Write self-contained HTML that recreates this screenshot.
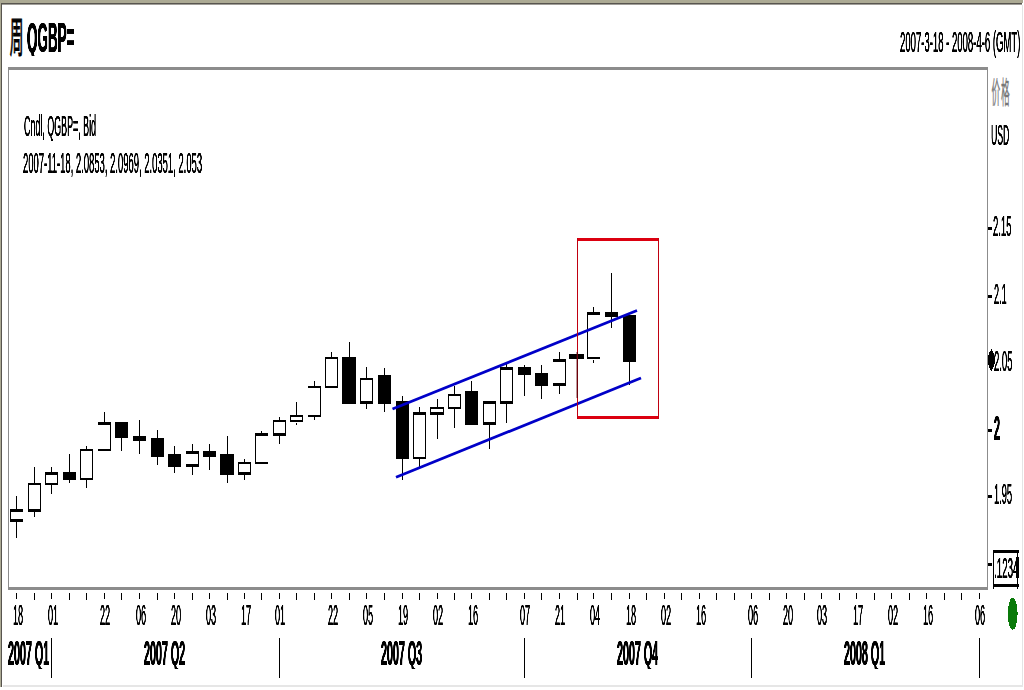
<!DOCTYPE html>
<html><head><meta charset="utf-8"><title>chart</title>
<style>
html,body{margin:0;padding:0;background:#fff;}
body{width:1024px;height:690px;position:relative;overflow:hidden;font-family:"Liberation Sans",sans-serif;color:#000;}
svg{position:absolute;left:0;top:0;}
.b{text-shadow:0.9px 0 0 #000,-0.9px 0 0 #000 !important;}
.t{position:absolute;white-space:nowrap;line-height:1;display:block;transform-origin:0 0;will-change:transform;text-shadow:0.5px 0 0 #000,-0.5px 0 0 #000;}
</style></head><body>
<svg width="1024" height="690" viewBox="0 0 1024 690" shape-rendering="crispEdges">
<rect x="0" y="0" width="1023" height="3" fill="#acaa94"/>
<rect x="1" y="3" width="1021" height="1" fill="#58554f"/>
<rect x="2" y="4" width="1020" height="1" fill="#a09e98"/>
<rect x="0" y="0" width="1" height="687" fill="#acaa94"/>
<rect x="1" y="3" width="1" height="684" fill="#58554f"/>
<rect x="1022" y="5" width="1" height="682" fill="#e4e4e4"/>
<rect x="3" y="685" width="1020" height="2" fill="#e6e6e6"/>
<rect x="8" y="67" width="980" height="3" fill="#8c8c8c"/>
<rect x="8" y="587" width="980" height="3" fill="#8c8c8c"/>
<rect x="8" y="67" width="1" height="523" fill="#8c8c8c"/>
<rect x="987" y="67" width="1" height="523" fill="#8c8c8c"/>
<rect x="988" y="227" width="4" height="3" fill="#000"/>
<rect x="988" y="295" width="4" height="3" fill="#000"/>
<rect x="988" y="429" width="4" height="3" fill="#000"/>
<rect x="988" y="495" width="4" height="3" fill="#000"/>
<rect x="988" y="563" width="4" height="3" fill="#000"/>
<polygon points="991.3,349 993.4,353 994.9,357.5 994.9,362.5 993.4,367 991.3,371 989.2,367 987.7,362.5 987.7,357.5 989.2,353" fill="#000"/>
<rect x="993" y="550" width="26" height="3" fill="#000"/>
<rect x="993" y="584" width="26" height="3" fill="#000"/>
<rect x="993" y="550" width="1" height="39" fill="#000"/>
<rect x="1017" y="550" width="1" height="39" fill="#000"/>
<rect x="1016" y="557" width="3" height="21" fill="#000"/>
<ellipse cx="1012.7" cy="613.7" rx="4.9" ry="16" fill="#0a7a0a"/>
<rect x="16" y="593" width="1" height="6" fill="#000"/>
<rect x="34" y="593" width="1" height="7" fill="#000"/>
<rect x="51" y="593" width="1" height="6" fill="#000"/>
<rect x="69" y="593" width="1" height="7" fill="#000"/>
<rect x="86" y="593" width="1" height="7" fill="#000"/>
<rect x="104" y="593" width="1" height="6" fill="#000"/>
<rect x="121" y="593" width="1" height="7" fill="#000"/>
<rect x="139" y="593" width="1" height="6" fill="#000"/>
<rect x="157" y="593" width="1" height="7" fill="#000"/>
<rect x="174" y="593" width="1" height="6" fill="#000"/>
<rect x="192" y="593" width="1" height="7" fill="#000"/>
<rect x="209" y="593" width="1" height="6" fill="#000"/>
<rect x="227" y="593" width="1" height="7" fill="#000"/>
<rect x="244" y="593" width="1" height="6" fill="#000"/>
<rect x="261" y="593" width="1" height="7" fill="#000"/>
<rect x="279" y="593" width="1" height="6" fill="#000"/>
<rect x="296" y="593" width="1" height="7" fill="#000"/>
<rect x="314" y="593" width="1" height="7" fill="#000"/>
<rect x="331" y="593" width="1" height="6" fill="#000"/>
<rect x="349" y="593" width="1" height="7" fill="#000"/>
<rect x="366" y="593" width="1" height="6" fill="#000"/>
<rect x="384" y="593" width="1" height="7" fill="#000"/>
<rect x="402" y="593" width="1" height="6" fill="#000"/>
<rect x="419" y="593" width="1" height="7" fill="#000"/>
<rect x="437" y="593" width="1" height="6" fill="#000"/>
<rect x="454" y="593" width="1" height="7" fill="#000"/>
<rect x="471" y="593" width="1" height="6" fill="#000"/>
<rect x="489" y="593" width="1" height="7" fill="#000"/>
<rect x="506" y="593" width="1" height="7" fill="#000"/>
<rect x="524" y="593" width="1" height="6" fill="#000"/>
<rect x="541" y="593" width="1" height="7" fill="#000"/>
<rect x="559" y="593" width="1" height="6" fill="#000"/>
<rect x="577" y="593" width="1" height="7" fill="#000"/>
<rect x="593" y="593" width="1" height="6" fill="#000"/>
<rect x="611" y="593" width="1" height="7" fill="#000"/>
<rect x="629" y="593" width="1" height="6" fill="#000"/>
<rect x="646" y="593" width="1" height="7" fill="#000"/>
<rect x="664" y="593" width="1" height="6" fill="#000"/>
<rect x="681" y="593" width="1" height="7" fill="#000"/>
<rect x="699" y="593" width="1" height="6" fill="#000"/>
<rect x="716" y="593" width="1" height="7" fill="#000"/>
<rect x="734" y="593" width="1" height="7" fill="#000"/>
<rect x="751" y="593" width="1" height="6" fill="#000"/>
<rect x="769" y="593" width="1" height="7" fill="#000"/>
<rect x="786" y="593" width="1" height="6" fill="#000"/>
<rect x="804" y="593" width="1" height="7" fill="#000"/>
<rect x="821" y="593" width="1" height="6" fill="#000"/>
<rect x="839" y="593" width="1" height="7" fill="#000"/>
<rect x="856" y="593" width="1" height="6" fill="#000"/>
<rect x="874" y="593" width="1" height="7" fill="#000"/>
<rect x="891" y="593" width="1" height="6" fill="#000"/>
<rect x="909" y="593" width="1" height="7" fill="#000"/>
<rect x="926" y="593" width="1" height="6" fill="#000"/>
<rect x="944" y="593" width="1" height="7" fill="#000"/>
<rect x="961" y="593" width="1" height="7" fill="#000"/>
<rect x="979" y="593" width="1" height="6" fill="#000"/>
<rect x="51" y="638" width="1" height="40" fill="#000"/>
<rect x="279" y="638" width="1" height="40" fill="#000"/>
<rect x="524" y="638" width="1" height="40" fill="#000"/>
<rect x="751" y="638" width="1" height="40" fill="#000"/>
<rect x="979" y="638" width="1" height="40" fill="#000"/>
<rect x="16" y="496" width="1" height="13" fill="#000"/>
<rect x="16" y="522" width="1" height="16" fill="#000"/>
<rect x="10" y="509" width="13" height="3" fill="#000"/>
<rect x="10" y="519" width="13" height="3" fill="#000"/>
<rect x="10" y="509" width="1" height="13" fill="#000"/>
<rect x="34" y="467" width="1" height="16" fill="#000"/>
<rect x="34" y="512" width="1" height="5" fill="#000"/>
<rect x="28" y="483" width="13" height="2" fill="#000"/>
<rect x="28" y="509" width="13" height="3" fill="#000"/>
<rect x="28" y="483" width="1" height="29" fill="#000"/>
<rect x="40" y="483" width="1" height="29" fill="#000"/>
<rect x="51" y="467" width="1" height="5" fill="#000"/>
<rect x="51" y="485" width="1" height="9" fill="#000"/>
<rect x="45" y="472" width="13" height="3" fill="#000"/>
<rect x="45" y="483" width="13" height="2" fill="#000"/>
<rect x="45" y="472" width="1" height="13" fill="#000"/>
<rect x="57" y="472" width="1" height="13" fill="#000"/>
<rect x="69" y="454" width="1" height="29" fill="#000"/>
<rect x="63" y="472" width="13" height="8" fill="#000"/>
<rect x="86" y="446" width="1" height="3" fill="#000"/>
<rect x="86" y="480" width="1" height="8" fill="#000"/>
<rect x="80" y="449" width="13" height="2" fill="#000"/>
<rect x="80" y="478" width="13" height="2" fill="#000"/>
<rect x="80" y="449" width="1" height="31" fill="#000"/>
<rect x="92" y="449" width="1" height="31" fill="#000"/>
<rect x="104" y="412" width="1" height="10" fill="#000"/>
<rect x="98" y="422" width="13" height="3" fill="#000"/>
<rect x="98" y="449" width="13" height="2" fill="#000"/>
<rect x="110" y="422" width="1" height="29" fill="#000"/>
<rect x="121" y="422" width="1" height="29" fill="#000"/>
<rect x="115" y="422" width="13" height="16" fill="#000"/>
<rect x="139" y="420" width="1" height="34" fill="#000"/>
<rect x="133" y="436" width="13" height="5" fill="#000"/>
<rect x="157" y="430" width="1" height="35" fill="#000"/>
<rect x="151" y="438" width="13" height="19" fill="#000"/>
<rect x="174" y="446" width="1" height="27" fill="#000"/>
<rect x="168" y="454" width="13" height="13" fill="#000"/>
<rect x="192" y="444" width="1" height="7" fill="#000"/>
<rect x="192" y="467" width="1" height="8" fill="#000"/>
<rect x="186" y="451" width="13" height="3" fill="#000"/>
<rect x="186" y="464" width="13" height="3" fill="#000"/>
<rect x="198" y="451" width="1" height="16" fill="#000"/>
<rect x="209" y="444" width="1" height="26" fill="#000"/>
<rect x="203" y="451" width="13" height="6" fill="#000"/>
<rect x="227" y="436" width="1" height="47" fill="#000"/>
<rect x="220" y="454" width="14" height="21" fill="#000"/>
<rect x="244" y="459" width="1" height="3" fill="#000"/>
<rect x="244" y="475" width="1" height="5" fill="#000"/>
<rect x="238" y="462" width="13" height="2" fill="#000"/>
<rect x="238" y="472" width="13" height="3" fill="#000"/>
<rect x="238" y="462" width="1" height="13" fill="#000"/>
<rect x="250" y="462" width="1" height="13" fill="#000"/>
<rect x="261" y="431" width="1" height="2" fill="#000"/>
<rect x="255" y="433" width="13" height="3" fill="#000"/>
<rect x="255" y="462" width="13" height="2" fill="#000"/>
<rect x="255" y="433" width="1" height="31" fill="#000"/>
<rect x="279" y="417" width="1" height="3" fill="#000"/>
<rect x="279" y="436" width="1" height="8" fill="#000"/>
<rect x="273" y="420" width="13" height="2" fill="#000"/>
<rect x="273" y="433" width="13" height="3" fill="#000"/>
<rect x="273" y="420" width="1" height="16" fill="#000"/>
<rect x="285" y="420" width="1" height="16" fill="#000"/>
<rect x="296" y="402" width="1" height="13" fill="#000"/>
<rect x="290" y="415" width="13" height="2" fill="#000"/>
<rect x="290" y="420" width="13" height="2" fill="#000"/>
<rect x="290" y="415" width="1" height="7" fill="#000"/>
<rect x="302" y="415" width="1" height="7" fill="#000"/>
<rect x="314" y="381" width="1" height="5" fill="#000"/>
<rect x="314" y="417" width="1" height="3" fill="#000"/>
<rect x="308" y="386" width="13" height="2" fill="#000"/>
<rect x="308" y="415" width="13" height="2" fill="#000"/>
<rect x="320" y="386" width="1" height="31" fill="#000"/>
<rect x="331" y="352" width="1" height="5" fill="#000"/>
<rect x="325" y="357" width="13" height="2" fill="#000"/>
<rect x="325" y="386" width="13" height="2" fill="#000"/>
<rect x="325" y="357" width="1" height="31" fill="#000"/>
<rect x="337" y="357" width="1" height="31" fill="#000"/>
<rect x="349" y="342" width="1" height="62" fill="#000"/>
<rect x="342" y="357" width="14" height="47" fill="#000"/>
<rect x="366" y="367" width="1" height="11" fill="#000"/>
<rect x="366" y="404" width="1" height="5" fill="#000"/>
<rect x="360" y="378" width="13" height="2" fill="#000"/>
<rect x="360" y="401" width="13" height="3" fill="#000"/>
<rect x="360" y="378" width="1" height="26" fill="#000"/>
<rect x="372" y="378" width="1" height="26" fill="#000"/>
<rect x="384" y="368" width="1" height="44" fill="#000"/>
<rect x="378" y="375" width="13" height="29" fill="#000"/>
<rect x="402" y="396" width="1" height="84" fill="#000"/>
<rect x="396" y="401" width="13" height="58" fill="#000"/>
<rect x="419" y="407" width="1" height="5" fill="#000"/>
<rect x="419" y="459" width="1" height="9" fill="#000"/>
<rect x="413" y="412" width="13" height="3" fill="#000"/>
<rect x="413" y="457" width="13" height="2" fill="#000"/>
<rect x="413" y="412" width="1" height="47" fill="#000"/>
<rect x="425" y="412" width="1" height="47" fill="#000"/>
<rect x="437" y="399" width="1" height="8" fill="#000"/>
<rect x="437" y="415" width="1" height="24" fill="#000"/>
<rect x="430" y="407" width="14" height="2" fill="#000"/>
<rect x="430" y="412" width="14" height="3" fill="#000"/>
<rect x="430" y="407" width="1" height="8" fill="#000"/>
<rect x="443" y="407" width="1" height="8" fill="#000"/>
<rect x="454" y="386" width="1" height="8" fill="#000"/>
<rect x="454" y="409" width="1" height="19" fill="#000"/>
<rect x="448" y="394" width="13" height="2" fill="#000"/>
<rect x="448" y="407" width="13" height="2" fill="#000"/>
<rect x="448" y="394" width="1" height="15" fill="#000"/>
<rect x="460" y="394" width="1" height="15" fill="#000"/>
<rect x="471" y="381" width="1" height="44" fill="#000"/>
<rect x="465" y="391" width="13" height="34" fill="#000"/>
<rect x="489" y="425" width="1" height="24" fill="#000"/>
<rect x="483" y="401" width="13" height="3" fill="#000"/>
<rect x="483" y="422" width="13" height="3" fill="#000"/>
<rect x="483" y="401" width="1" height="24" fill="#000"/>
<rect x="495" y="401" width="1" height="24" fill="#000"/>
<rect x="506" y="364" width="1" height="3" fill="#000"/>
<rect x="506" y="404" width="1" height="19" fill="#000"/>
<rect x="500" y="367" width="13" height="3" fill="#000"/>
<rect x="500" y="401" width="13" height="3" fill="#000"/>
<rect x="500" y="367" width="1" height="37" fill="#000"/>
<rect x="512" y="367" width="1" height="37" fill="#000"/>
<rect x="524" y="365" width="1" height="31" fill="#000"/>
<rect x="518" y="367" width="13" height="8" fill="#000"/>
<rect x="541" y="365" width="1" height="34" fill="#000"/>
<rect x="535" y="373" width="13" height="13" fill="#000"/>
<rect x="559" y="352" width="1" height="7" fill="#000"/>
<rect x="559" y="386" width="1" height="8" fill="#000"/>
<rect x="553" y="359" width="13" height="3" fill="#000"/>
<rect x="553" y="383" width="13" height="3" fill="#000"/>
<rect x="565" y="359" width="1" height="27" fill="#000"/>
<rect x="577" y="352" width="1" height="2" fill="#000"/>
<rect x="569" y="354" width="15" height="5" fill="#000"/>
<rect x="593" y="307" width="1" height="5" fill="#000"/>
<rect x="587" y="312" width="13" height="3" fill="#000"/>
<rect x="587" y="357" width="13" height="2" fill="#000"/>
<rect x="587" y="312" width="1" height="47" fill="#000"/>
<rect x="611" y="273" width="1" height="55" fill="#000"/>
<rect x="605" y="312" width="13" height="5" fill="#000"/>
<rect x="629" y="315" width="1" height="70" fill="#000"/>
<rect x="623" y="315" width="13" height="47" fill="#000"/>
<rect x="296" y="423" width="1" height="2" fill="#000"/>
<rect x="593" y="360" width="1" height="3" fill="#000"/>
</svg>
<svg width="1024" height="690" viewBox="0 0 1024 690">

<line x1="392.5" y1="409" x2="637" y2="310.5" stroke="#0000c8" stroke-width="2.8"/>
<line x1="396" y1="477.3" x2="641" y2="378" stroke="#0000c8" stroke-width="2.8"/>
<rect x="577" y="238" width="82" height="3" fill="#dc0010"/>
<rect x="577" y="416" width="82" height="3" fill="#dc0010"/>
<rect x="577" y="238" width="1" height="181" fill="#c00010"/>
<rect x="658" y="238" width="1" height="181" fill="#c00010"/>
<rect x="576.6" y="352" width="1.2" height="46" fill="#5a0008"/>

<text transform="translate(9.8,52.2) scale(0.3334,1)" x="0" y="0" font-size="41" fill="#000" stroke="#000" stroke-width="1.2" style="font-family:'Liberation Sans','Noto Sans CJK SC',sans-serif;">周</text>
<text transform="translate(991.4,102.9) scale(0.29,1)" x="0" y="0" font-size="30" fill="#777" stroke="#777" stroke-width="0.4" style="font-family:'Liberation Sans','Noto Sans CJK SC',sans-serif;">价</text>
<text transform="translate(1001.0,102.9) scale(0.29,1)" x="0" y="0" font-size="30" fill="#777" stroke="#777" stroke-width="0.4" style="font-family:'Liberation Sans','Noto Sans CJK SC',sans-serif;">格</text>
</svg>
<span class="t b" style="left:26.60px;top:16.00px;font-size:43px;font-weight:bold;transform:scaleX(0.3130);clip-path:inset(0 0 3.4px 0)">QGBP=</span>
<span class="t" style="left:899.60px;top:28.45px;font-size:29px;font-weight:normal;transform:scaleX(0.3290)">2007-3-18 - 2008-4-6 (GMT)</span>
<span class="t" style="left:23.70px;top:112.25px;font-size:29px;font-weight:normal;transform:scaleX(0.3070)">Cndl, QGBP=, Bid</span>
<span class="t" style="left:22.60px;top:149.25px;font-size:29px;font-weight:normal;transform:scaleX(0.3260)">2007-11-18, 2.0853, 2.0969, 2.0351, 2.053</span>
<span class="t" style="left:991.20px;top:120.75px;font-size:29px;font-weight:normal;transform:scaleX(0.2980)">USD</span>
<span class="t" style="left:993.30px;top:212.45px;font-size:29px;font-weight:normal;transform:scaleX(0.3260)">2.15</span>
<span class="t" style="left:993.50px;top:279.95px;font-size:29px;font-weight:normal;transform:scaleX(0.3130)">2.1</span>
<span class="t" style="left:994.00px;top:346.55px;font-size:29px;font-weight:normal;transform:scaleX(0.3260)">2.05</span>
<span class="t b" style="left:993.70px;top:410.95px;font-size:35.5px;font-weight:bold;transform:scaleX(0.3000)">2</span>
<span class="t" style="left:994.20px;top:479.95px;font-size:29px;font-weight:normal;transform:scaleX(0.3200)">1.95</span>
<span class="t" style="left:994.30px;top:553.65px;font-size:29px;font-weight:normal;transform:scaleX(0.3380)">.1234</span>
<span class="t" style="left:13.42px;top:600.75px;font-size:29px;font-weight:normal;transform:scaleX(0.3100)">18</span>
<span class="t" style="left:47.80px;top:600.75px;font-size:29px;font-weight:normal;transform:scaleX(0.3100)">01</span>
<span class="t" style="left:99.80px;top:600.75px;font-size:29px;font-weight:normal;transform:scaleX(0.3100)">22</span>
<span class="t" style="left:135.80px;top:600.75px;font-size:29px;font-weight:normal;transform:scaleX(0.3100)">06</span>
<span class="t" style="left:170.80px;top:600.75px;font-size:29px;font-weight:normal;transform:scaleX(0.3100)">20</span>
<span class="t" style="left:205.80px;top:600.75px;font-size:29px;font-weight:normal;transform:scaleX(0.3100)">03</span>
<span class="t" style="left:241.42px;top:600.75px;font-size:29px;font-weight:normal;transform:scaleX(0.3100)">17</span>
<span class="t" style="left:275.30px;top:600.75px;font-size:29px;font-weight:normal;transform:scaleX(0.3100)">01</span>
<span class="t" style="left:327.80px;top:600.75px;font-size:29px;font-weight:normal;transform:scaleX(0.3100)">22</span>
<span class="t" style="left:362.80px;top:600.75px;font-size:29px;font-weight:normal;transform:scaleX(0.3100)">05</span>
<span class="t" style="left:398.18px;top:600.75px;font-size:29px;font-weight:normal;transform:scaleX(0.3100)">19</span>
<span class="t" style="left:432.80px;top:600.75px;font-size:29px;font-weight:normal;transform:scaleX(0.3100)">02</span>
<span class="t" style="left:467.80px;top:600.75px;font-size:29px;font-weight:normal;transform:scaleX(0.3100)">16</span>
<span class="t" style="left:519.55px;top:600.75px;font-size:29px;font-weight:normal;transform:scaleX(0.3100)">07</span>
<span class="t" style="left:554.55px;top:600.75px;font-size:29px;font-weight:normal;transform:scaleX(0.3100)">21</span>
<span class="t" style="left:589.80px;top:600.75px;font-size:29px;font-weight:normal;transform:scaleX(0.3100)">04</span>
<span class="t" style="left:625.80px;top:600.75px;font-size:29px;font-weight:normal;transform:scaleX(0.3100)">18</span>
<span class="t" style="left:660.80px;top:600.75px;font-size:29px;font-weight:normal;transform:scaleX(0.3100)">02</span>
<span class="t" style="left:695.80px;top:600.75px;font-size:29px;font-weight:normal;transform:scaleX(0.3100)">16</span>
<span class="t" style="left:747.80px;top:600.75px;font-size:29px;font-weight:normal;transform:scaleX(0.3100)">06</span>
<span class="t" style="left:782.80px;top:600.75px;font-size:29px;font-weight:normal;transform:scaleX(0.3100)">20</span>
<span class="t" style="left:817.18px;top:600.75px;font-size:29px;font-weight:normal;transform:scaleX(0.3100)">03</span>
<span class="t" style="left:852.80px;top:600.75px;font-size:29px;font-weight:normal;transform:scaleX(0.3100)">17</span>
<span class="t" style="left:887.80px;top:600.75px;font-size:29px;font-weight:normal;transform:scaleX(0.3100)">02</span>
<span class="t" style="left:923.30px;top:600.75px;font-size:29px;font-weight:normal;transform:scaleX(0.3100)">16</span>
<span class="t" style="left:974.80px;top:600.75px;font-size:29px;font-weight:normal;transform:scaleX(0.3100)">06</span>
<span class="t b" style="left:7.73px;top:636.45px;font-size:35.5px;font-weight:bold;transform:scaleX(0.3020);clip-path:inset(0 0 3.2px 0)">2007 Q1</span>
<span class="t b" style="left:144.13px;top:636.45px;font-size:35.5px;font-weight:bold;transform:scaleX(0.3020);clip-path:inset(0 0 3.2px 0)">2007 Q2</span>
<span class="t b" style="left:380.73px;top:636.45px;font-size:35.5px;font-weight:bold;transform:scaleX(0.3020);clip-path:inset(0 0 3.2px 0)">2007 Q3</span>
<span class="t b" style="left:617.13px;top:636.45px;font-size:35.5px;font-weight:bold;transform:scaleX(0.3020);clip-path:inset(0 0 3.2px 0)">2007 Q4</span>
<span class="t b" style="left:844.03px;top:636.45px;font-size:35.5px;font-weight:bold;transform:scaleX(0.3020);clip-path:inset(0 0 3.2px 0)">2008 Q1</span>
</body></html>
